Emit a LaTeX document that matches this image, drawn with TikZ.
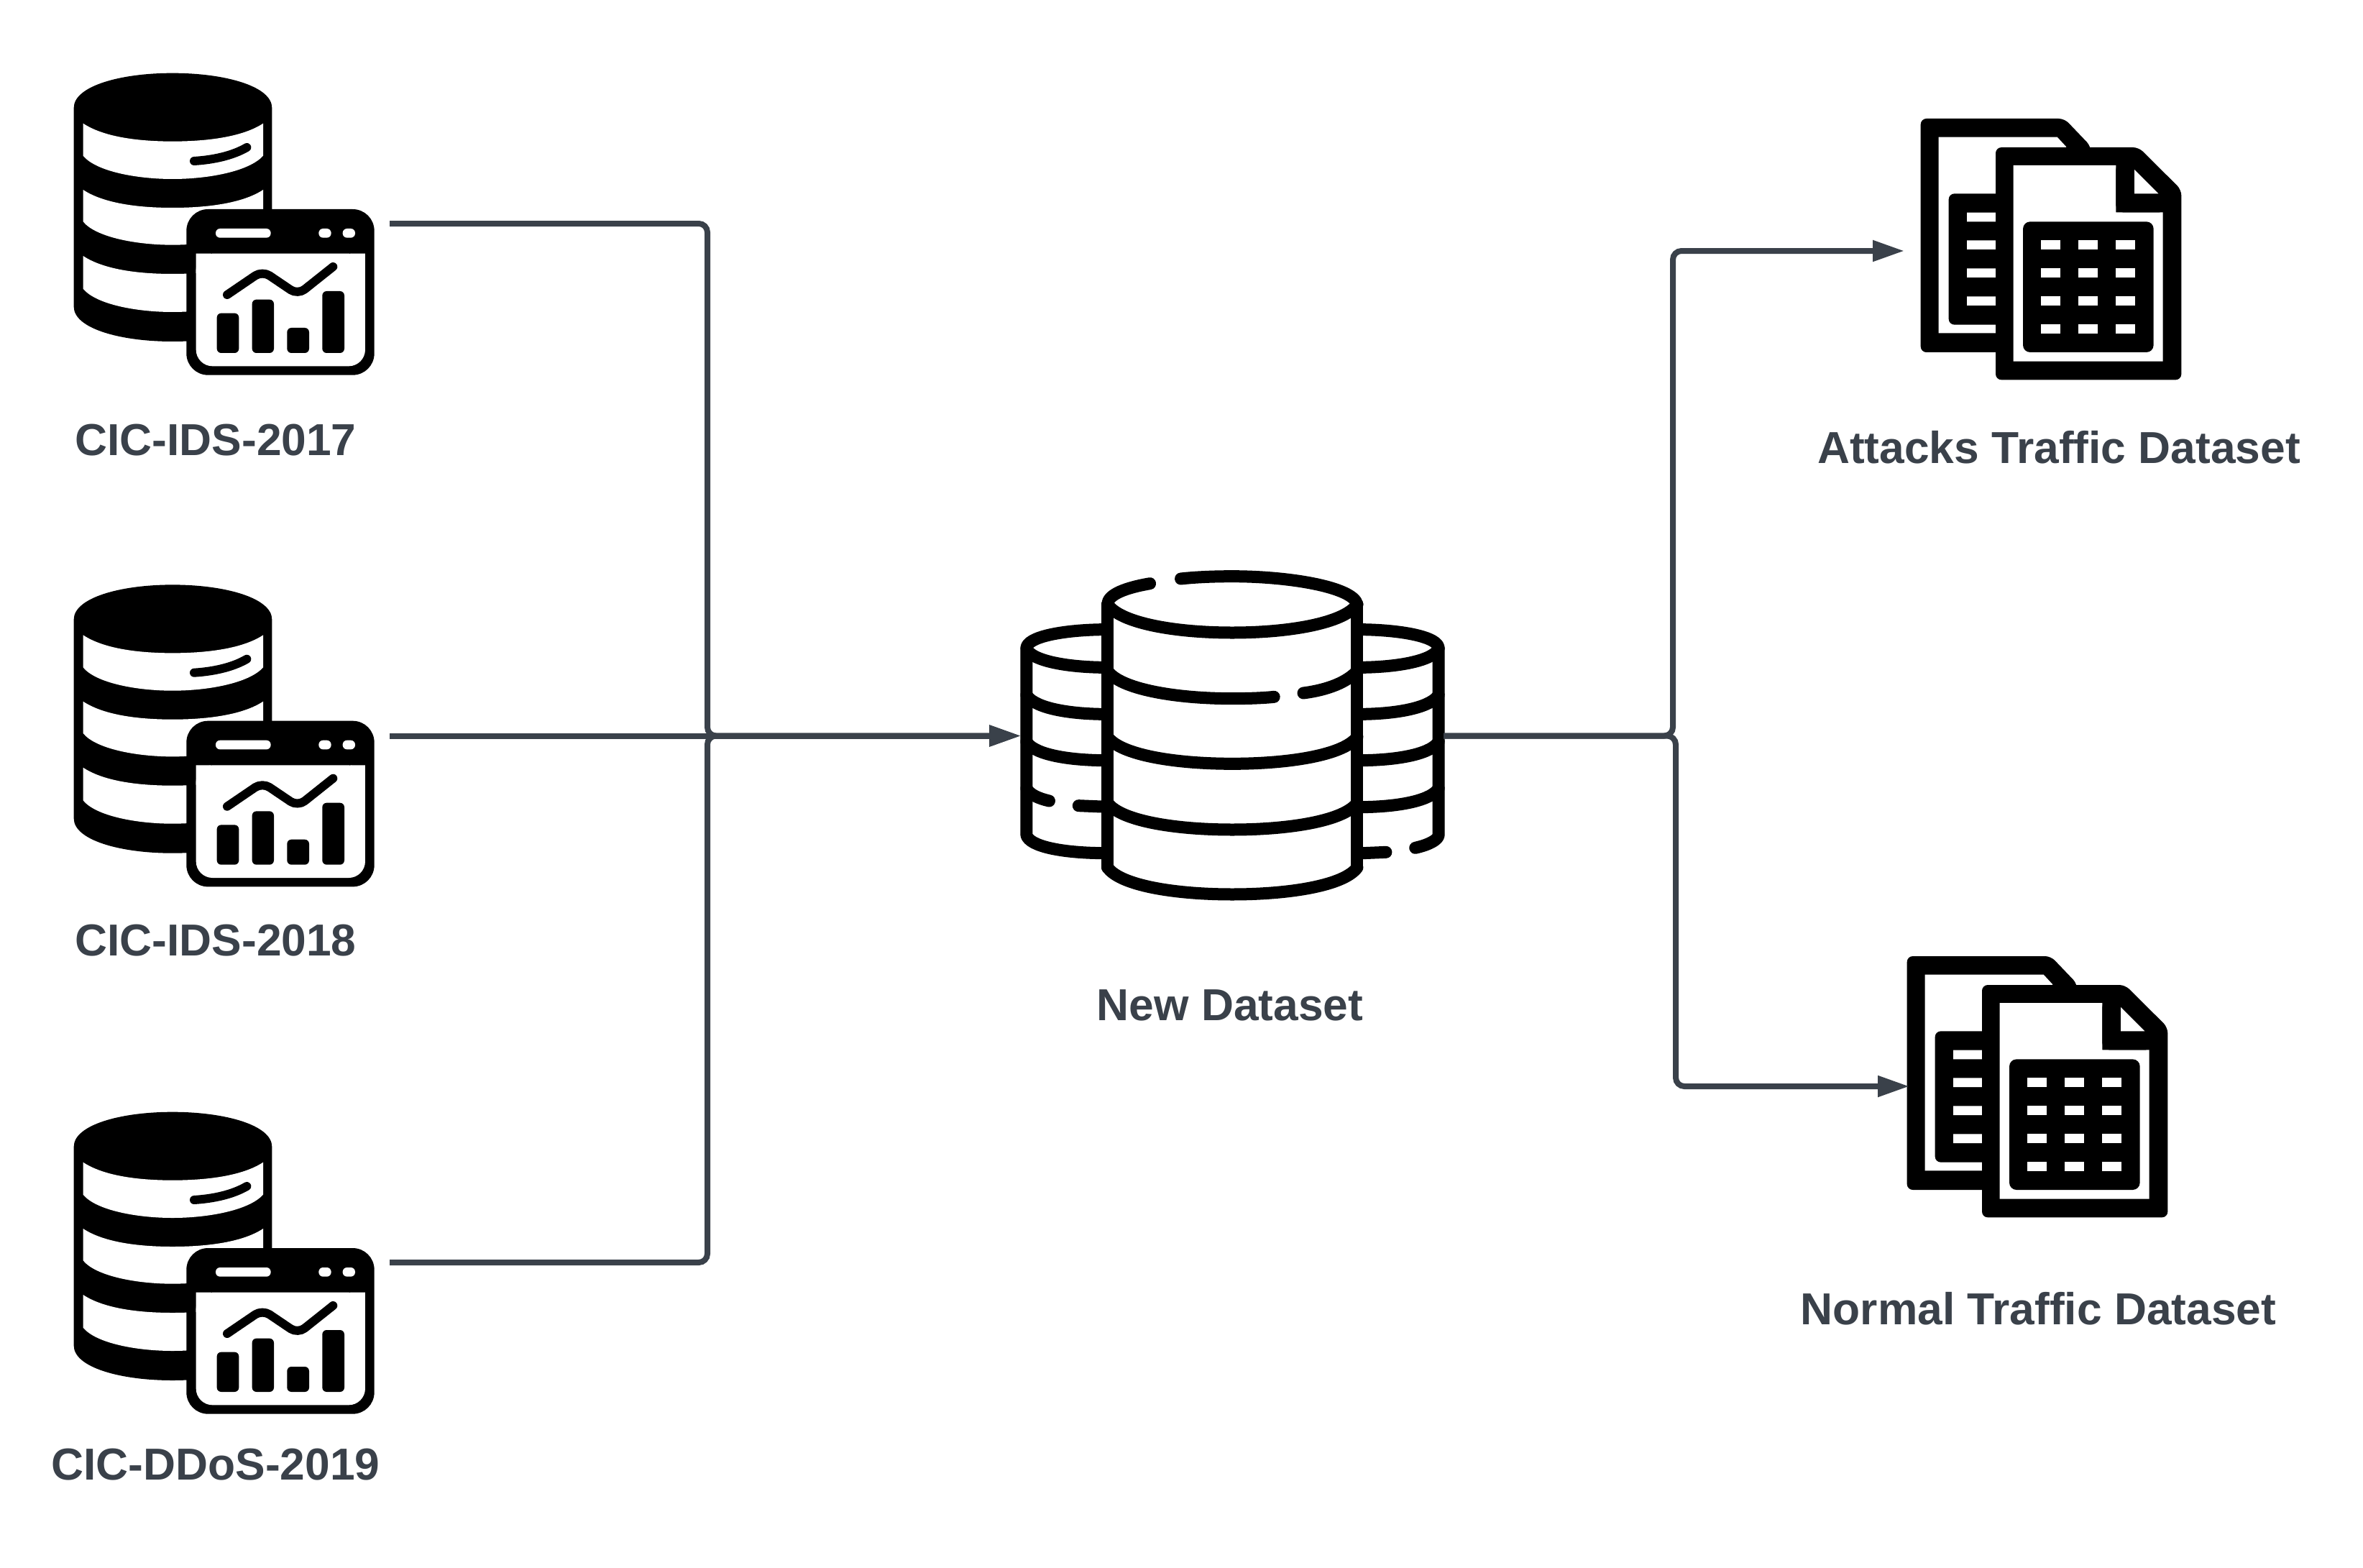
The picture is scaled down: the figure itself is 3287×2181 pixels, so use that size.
\documentclass[tikz,border=0pt]{standalone}
\usepackage{fontspec}
\setmainfont{Liberation Sans}
\usetikzlibrary{arrows.meta}
\definecolor{ink}{HTML}{3A414A}
\tikzset{
  x=1pt,y=-1pt,
  conn/.style={draw=ink,line width=8pt,rounded corners=12pt},
  tip/.style={-{Triangle[length=44pt,width=28pt]}},
  lab/.style={text=ink,font=\bfseries\fontsize{62.3}{70}\selectfont,inner sep=0pt},
  box/.style={inner sep=0pt,outer sep=0pt,draw=none},
  zoomA/.style={x=0.33333pt,y=-0.33333pt},
  zoomB/.style={x=0.42088pt,y=-0.33333pt},
  blk/.style={fill=black,draw=none},
  wht/.style={fill=white,draw=none},
  thin line/.style={draw=black,line width=17pt,line cap=round,line join=round},
  dbchart/.pic={
    \path[blk] (68,210) .. controls (68,120) and (260,65) .. (480,65) .. controls (700,65) and (895,120) .. (895,210) -- (895,1040) .. controls (895,1130) and (700,1185) .. (480,1185) .. controls (260,1185) and (68,1130) .. (68,1040) -- cycle;
    \foreach \t/\b in {275/410,552/685,828/965}{
      \path[wht] (107,\t) .. controls (190,\t+55) and (330,\t+75) .. (480,\t+75) .. controls (630,\t+75) and (775,\t+55) .. (858,\t) -- (858,\b) .. controls (800,\b+65) and (630,\b+97) .. (480,\b+97) .. controls (330,\b+97) and (160,\b+65) .. (107,\b) -- cycle;
    }
    \draw[black,line width=12pt,line cap=round] (570,432) .. controls (650,427) and (730,410) .. (790,375);
    \path[blk,rounded corners=30pt] (538,633) rectangle (1322,1325);
    \path[wht,rounded corners=23pt] (578,818) -- (578,1288) -- (1284,1288) -- (1284,818) -- cycle;
    \path[wht] (578,818) rectangle (640,900) (1222,818) rectangle (1284,900);
    \path[wht,rounded corners=6pt] (660,714) rectangle (890,752) (1090,714) rectangle (1142,752) (1190,714) rectangle (1242,752);
    \draw[black,line width=12pt,line cap=round,line join=round,rounded corners=12pt] (708,990) -- (855,890) -- (1003,990) -- (1150,873);
    \path[blk,rounded corners=6pt] (665,1067) rectangle (757,1233) (812,1010) rectangle (903,1233) (958,1128) rectangle (1050,1233) (1105,975) rectangle (1197,1233);
  },
  docs/.pic={
    \path[blk,rounded corners=8pt] (215,75) -- (815,75) -- (925,190) -- (925,1050) -- (215,1050) -- cycle;
    \path[wht] (290,152) -- (785,152) -- (822,192) -- (822,970) -- (290,970) -- cycle;
    \path[blk,rounded corners=8pt] (332,388) rectangle (700,935);
    \path[wht] (408,467) rectangle (540,505) (408,583) rectangle (540,621) (408,700) rectangle (540,738) (408,817) rectangle (540,855);
    \path[blk,rounded corners=8pt] (528,195) -- (1125,195) -- (1303,372) -- (1303,1165) -- (528,1165) -- cycle;
    \path[wht] (602,270) -- (1030,270) -- (1030,466) -- (1226,466) -- (1226,1088) -- (602,1088) -- cycle;
    \path[blk,rounded corners=10pt] (1030,260) -- (1030,466) -- (1240,466) -- (1240,380) -- (1107,380) -- cycle;
    \path[wht] (1107,288) -- (1107,388) -- (1207,388) -- cycle;
    \path[blk,rounded corners=10pt] (642,505) rectangle (1187,1050);
    \foreach \cx in {718,873,1029}\foreach \cy in {582,698,816,932}{
      \path[wht] (\cx,\cy) rectangle (\cx+80,\cy+39);
    }
  },
  bigdb/.pic={
    \begin{scope}[thin line]
    % side cylinders
    \draw (338,317) .. controls (200,320) and (90,350) .. (90,395) .. controls (100,440) and (200,472) .. (338,475);
    \draw (90,395) -- (90,1175) .. controls (100,1220) and (200,1248) .. (338,1250);
    \draw (90,590) .. controls (110,635) and (200,667) .. (338,670);
    \draw (90,785) .. controls (110,830) and (200,860) .. (338,863);
    \draw (90,980) .. controls (100,1005) and (130,1022) .. (165,1032);
    \draw (262,1052) -- (338,1056);
    \draw (1203,317) .. controls (1340,320) and (1452,350) .. (1452,395) .. controls (1440,440) and (1340,472) .. (1203,475);
    \draw (1452,395) -- (1452,1175) .. controls (1450,1195) and (1420,1215) .. (1375,1228);
    \draw (1452,590) .. controls (1430,635) and (1340,667) .. (1203,670);
    \draw (1452,785) .. controls (1430,830) and (1340,860) .. (1203,863);
    \draw (1452,980) .. controls (1430,1025) and (1340,1055) .. (1203,1058);
    \draw (1203,1250) -- (1278,1246);
    % main cylinder
    \draw (358,212) -- (358,1310) (1183,212) -- (1183,1310);
    \draw (498,125) .. controls (420,142) and (358,170) .. (358,212);
    \draw (358,212) .. controls (400,290) and (580,330) .. (770,330) .. controls (960,330) and (1140,290) .. (1183,212);
    \draw (1183,212) .. controls (1170,140) and (960,95) .. (770,95) .. controls (710,95) and (650,98) .. (600,105);
    \draw (358,490) .. controls (400,565) and (580,605) .. (770,605) .. controls (820,605) and (870,603) .. (908,598);
    \draw (1005,582) .. controls (1090,568) and (1150,535) .. (1183,490);
    \foreach \y in {765,1040,1310}{
      \draw (358,\y) .. controls (400,\y+75) and (580,\y+112) .. (770,\y+112) .. controls (960,\y+112) and (1140,\y+75) .. (1183,\y);
    }
    \end{scope}
  }
}
\begin{document}
\begin{tikzpicture}
\useasboundingbox (0,0) rectangle (3287,2181);
% icons
\begin{scope}[shift={(80,80)},zoomA] \pic {dbchart}; \end{scope}
\begin{scope}[shift={(80,791.7)},zoomA] \pic {dbchart}; \end{scope}
\begin{scope}[shift={(80,1525)},zoomA] \pic {dbchart}; \end{scope}
\begin{scope}[shift={(1390,770)},zoomB] \pic {bigdb}; \end{scope}
\begin{scope}[shift={(2600,140)},zoomA] \pic {docs}; \end{scope}
\begin{scope}[shift={(2581,1305)},zoomA] \pic {docs}; \end{scope}
% anchors for the connectors: empty boxes around the icons
\node[box,minimum width=440pt,minimum height=421pt] (srcA) at (322,311) {};
\node[box,minimum width=440pt,minimum height=421pt] (srcB) at (322,1023.5) {};
\node[box,minimum width=440pt,minimum height=421pt] (srcC) at (322,1756) {};
\node[box,minimum width=588pt,minimum height=456pt] (merged) at (1714,1023.5) {};
\node[box,minimum width=385pt,minimum height=370pt] (attacks) at (2841.5,349) {};
\node[box,minimum width=385pt,minimum height=370pt] (normal) at (2848.5,1511) {};
% labels
\node[lab] (labA) at (300,612) {CIC-IDS-2017};
\node[lab] (labB) at (300,1308) {CIC-IDS-2018};
\node[lab] (labC) at (300,2037) {CIC-DDoS-2019};
\node[lab] (labM) at (1711,1398) {New Dataset};
\node[lab] (labT) at (2864,622) {Attacks Traffic Dataset};
\node[lab] (labN) at (2835.5,1820) {Normal Traffic Dataset};
% connectors
\draw[conn,tip] (srcA.east) -| (984,1023.5) -- (merged.west);
\draw[conn,tip] (srcC.east) -| (984,1023.5) -- (merged.west);
\draw[conn,tip] (srcB.east) -- (merged.west);
\draw[conn,tip] (merged.east) -- (2327,1023.5) |- (attacks.west);
\draw[conn,tip] (merged.east) -- (2331,1023.5) |- (normal.west);
\end{tikzpicture}
\end{document}
